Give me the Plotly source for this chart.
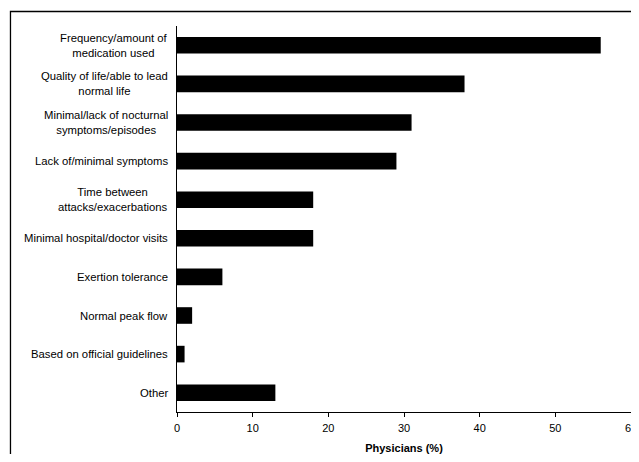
import plotly.graph_objects as go

categories = [
    "Frequency/amount of<br>medication used",
    "Quality of life/able to lead<br>normal life",
    "Minimal/lack of nocturnal<br>symptoms/episodes",
    "Lack of/minimal symptoms",
    "Time between<br>attacks/exacerbations",
    "Minimal hospital/doctor visits",
    "Exertion tolerance",
    "Normal peak flow",
    "Based on official guidelines",
    "Other",
]
values = [56, 38, 31, 29, 18, 18, 6, 2, 1, 13]
x_ticks = [0, 10, 20, 30, 40, 50, 60]

FONT = "Liberation Sans, Arial, sans-serif"

fig = go.Figure()
fig.add_trace(go.Bar(
    y=categories, x=values, orientation="h",
    marker=dict(color="black", line=dict(width=0)),
    width=0.43,
))

for c in categories:
    fig.add_annotation(
        x=0, xref="paper", y=c, yref="y", xanchor="right", yanchor="middle",
        xshift=-7, text=c, showarrow=False, align="center",
        font=dict(family=FONT, size=11.3, color="black"),
    )

# outer frame (extends beyond the right and bottom edges)
fig.add_shape(type="rect", xref="paper", yref="paper",
              x0=-0.3668, x1=1.2, y0=-0.4, y1=1.0376,
              line=dict(color="black", width=1.3), fillcolor="rgba(0,0,0,0)")

fig.update_layout(
    width=631, height=446,
    margin=dict(l=169, r=8, t=18, b=42, autoexpand=False),
    plot_bgcolor="white", paper_bgcolor="white",
    showlegend=False,
    font=dict(family=FONT, size=11, color="black"),
    xaxis=dict(
        range=[0, 60], tickvals=x_ticks, ticks="outside", ticklen=4,
        tickcolor="black", showline=True, linecolor="black", linewidth=1,
        showgrid=False, zeroline=False, automargin=False,
        ticklabelstandoff=2,
        title=dict(text="<b>Physicians (%)</b>", font=dict(size=11), standoff=12),
        tickfont=dict(size=11),
    ),
    yaxis=dict(
        autorange="reversed", showticklabels=False, ticks="",
        showline=True, linecolor="black", linewidth=1, showgrid=False,
        zeroline=False, automargin=False,
    ),
)

fig.write_html("out.html")
